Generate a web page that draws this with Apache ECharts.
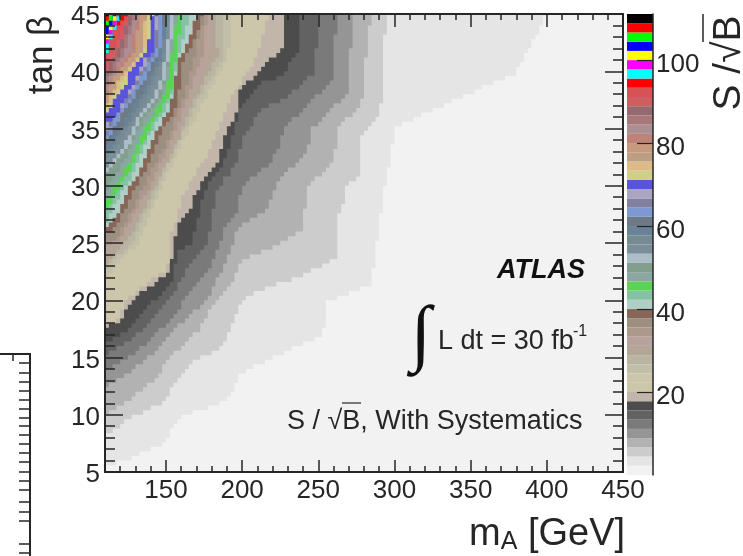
<!DOCTYPE html>
<html><head><meta charset="utf-8">
<style>html,body{margin:0;padding:0;background:#fff}#c{width:743px;height:556px}</style>
<script src="https://cdn.jsdelivr.net/npm/echarts@6/dist/echarts.min.js"></script>
</head><body><div id="c"></div>
<script>
// ROOT palette, bottom of the colour scale to the top
const palette = ['#f2f2f2','#e5e5e5','#cccccc','#b2b2b2','#959595','#7a7a7a','#626262','#4c4c4c','#c1b6a9','#ccc6aa','#ccc6aa','#c2bfa8','#bab5a3','#b3a697','#b8a39c','#ad998c','#9c8f82','#876657','#b0cfc7','#85c2a3','#59d454','#8aa8a1','#829e8c','#adbdc7','#7a8f99','#758a91','#698296','#6e7a85','#7d99d1','#8080a1','#aba6bf','#5954d9','#cfcf87','#deba87','#bd9e82','#c7997d','#bf8278','#ab8f94','#a6787a','#946970','#cf5e61','#d65254','#ff0000','#00ffff','#ff00ff','#ffff00','#0000ff','#00ff00','#ff0000','#000000'];
const zMax = 111.2;
const xMajor = [150,200,250,300,350,400,450];
const xMinor = [110,120,130,140,160,170,180,190,210,220,230,240,260,270,280,290,310,320,330,340,360,370,380,390,410,420,430,440];
const yMajor = [5,10,15,20,25,30,35,40,45];
const yMinor = [6,7,8,9,11,12,13,14,16,17,18,19,21,22,23,24,26,27,28,29,31,32,33,34,36,37,38,39,41,42,43,44];
const zTicks = [20,40,60,80,100];
const fragmentMinor = [9,19,28,37,46,55,64,72,81,90,99,108,118,127,136,148,158,167,190,199];
const fragmentMajor = [140,179];
const fragmentTop = [13];

// Iso-significance contours: [mA, tan beta]; band = palette index above the contour
const c1 = [[110,5.5],[125,6.1],[148,7.5],[159,9.8],[190,11.2],[199,13.5],[216,14.8],[235,15.9],[253,17],[256,19.8],[285,21.5],[288.5,25.2],[292,28.6],[295,30.9],[298,33],[300,35.1],[319,36.3],[334.5,37.2],[356,38.5],[379,39.8],[387,41.7],[395.5,43.8],[400,45]];
const c2 = [[110,8.2],[128,9.8],[149,11.2],[156,12.8],[160.5,13.7],[171,14.9],[187,15.9],[194,18],[200,20],[217,21.2],[235,21.9],[263,23.9],[262,26.8],[266,28.3],[267.5,29.9],[277,30.9],[278.5,34.2],[282,35.1],[289,35.9],[292,37.9],[293,42.5],[295,45]];
const c3 = [[110,10],[125,11.3],[141.4,12.9],[149,14.3],[156,15.4],[171,17.4],[177.5,18.5],[180,19.6],[194,21.8],[200,23.5],[225,25],[240,26.3],[242,29.2],[244.5,30.2],[259.6,32],[263,35],[267.5,35.7],[278.5,37],[279,38.5],[282,42.3],[284.5,45]];
const c4 = [[110,12.4],[128,13.9],[146,16],[159,18],[177,20],[185.4,22.4],[193,24.6],[197,26.3],[216,28],[219.5,29],[225,30.7],[243,33],[246,35.1],[263,37.3],[269.4,38.1],[270,40.5],[273.4,45]];
const c5 = [[110,13.9],[126,15],[144,17.1],[157,19.1],[168,21.1],[179,23],[185.4,24.8],[187.3,26.1],[195,27.2],[200,30],[217,31.8],[225,33.6],[227,35.1],[238,36.4],[257.6,39],[259.5,39.4],[262,45]];
const c6 = [[110,15.2],[124,16.3],[139.4,18],[150.6,19.8],[159,21.5],[163.7,22.9],[177,24.8],[180,27.2],[184,29.8],[196.5,32],[200,34.2],[213,36.8],[225,37.3],[246.4,39.9],[248.4,40.8],[249.7,45]];
const c7 = [[110,16.3],[124,17.4],[133,18.9],[144,20.2],[154.5,21.8],[157,24.1],[165.7,24.8],[169,26.1],[173.5,28.6],[177.5,30],[187.3,32],[195,34.7],[197,36.4],[213,39],[225,39.5],[238,42],[238,45]];
const c8 = [[110,17.6],[119.7,18.2],[126.3,19.6],[134.8,20.9],[144,21.6],[152.5,22.6],[154.5,24.4],[157,26.1],[157.8,26.8],[167,28],[169,29.4],[177.5,30.9],[184,32],[187.3,33.6],[190.6,35.1],[196.5,36.4],[197,37.9],[200.5,38.8],[209.6,39.7],[213,40.5],[226.7,42],[226.7,45]];
const c9 = [[110,17.8],[114.4,18],[119.7,18.6],[123,19.8],[131.5,20.9],[138,21.6],[146,22.2],[150.5,22.8],[152.5,24.4],[152.5,25.3],[162.4,29.6],[182,34],[192,37.7],[210,41.3],[217,45]];
const c11 = [[110,22],[132.8,25.25],[146,29.6],[161.7,34],[176,37.75],[190.6,41.4],[194,45]];
const c12 = [[110,22.6],[128.2,25.25],[143.3,29.6],[159,34],[172.2,37.75],[188,41.4],[188.6,45]];
const c13 = [[110,23.3],[125,25.25],[141.4,29.6],[157.8,34],[169.6,37.75],[184,41.4],[182.7,45]];
const c14 = [[110,23.9],[121,25.25],[139.4,29.6],[155.8,34],[167,37.75],[178.8,41.4],[179.4,45]];
const c15 = [[110,24.6],[118.4,25.25],[137.4,29.6],[153.8,34],[163.7,37.75],[174.2,41.4],[176.8,45]];
const c16 = [[110,25.1],[116.4,25.25],[134.1,29.6],[151.2,34],[161,37.75],[169,41.4],[175.5,45]];
const c17 = [[110,25.8],[113.1,26],[118.4,26.8],[125,28.3],[129.5,29.9],[134.8,30.9],[141.4,32.7],[146,34.4],[156.5,36.8],[159.7,39.4],[161.7,41],[165.7,41.9],[170.9,43.4],[174.2,45]];
const c18 = [[109,26.1],[114.4,26.8],[121,28.3],[125.6,29.9],[130.9,30.9],[137.4,32.7],[142,34.4],[152.5,36.8],[155.8,39.4],[157.8,41],[161.7,41.9],[167,43.4],[170.2,45]];
const c19 = [[110,26.6],[111,26.8],[117,28.5],[123,30],[127.6,30.9],[135.5,33.3],[141.4,35],[149.9,36.9],[152.5,37.5],[155.2,38.8],[157.1,40.8],[162.7,43.4],[165.6,45]];
const c20 = [[110,27.7],[113.5,28.5],[120,30],[124.6,30.9],[133.2,33.3],[139,35],[147.6,36.9],[150.9,37.5],[154.2,38.8],[156.1,40.8],[158.8,43.4],[161.1,45]];
const c21 = [[110.2,28.5],[116.7,30],[121.3,30.9],[129.9,33.3],[135.8,35],[144.3,36.9],[147.6,37.5],[150.9,38.8],[152.9,40.8],[155.5,43.4],[157.8,45]];
const c22 = [[110,29.6],[112.5,30],[117,30.9],[126.9,33.3],[132.2,35],[140.7,36.9],[145.3,37.5],[149.2,38.8],[151.9,40.8],[154.5,43.4],[156.8,45]];
const c23 = [[110,31],[112.5,31.4],[116.4,32],[123,33.1],[129.5,34.6],[134.1,36],[144,37.7],[149.2,39.2],[150.5,40.3],[152.5,41.4],[153.8,42.9],[155.8,45]];
const c24 = [[110,31.6],[113.8,32],[120.4,33.1],[126.9,34.6],[131.5,36],[141.4,37.7],[146.6,39.2],[147.9,40.3],[149.9,41.4],[151.2,42.9],[153.2,45]];
const c25 = [[110,32.4],[116.4,33.1],[123.6,34.6],[138.1,37.7],[148.6,41.4],[151.9,45]];
const c26 = [[110,32.8],[112.5,33.1],[120.4,34.6],[134.8,37.7],[147.3,41.4],[150.6,45]];
const c27 = [[110,33.4],[117.1,34.6],[131.5,37.7],[145.6,41.4],[149.6,45]];
const c28 = [[110,33.7],[114.4,34.7],[117.7,35.6],[123,36.8],[128.9,37.7],[132.8,38.6],[137.4,39.7],[144,41.4],[146.6,42.3],[147.3,43.6],[148.6,45]];
const c29 = [[110,34.3],[111.8,34.7],[115.1,35.6],[120.4,36.8],[126.3,37.7],[130.2,38.6],[134.8,39.7],[141.4,41.4],[144,42.3],[144.6,43.6],[146,45]];
const c30 = [[110,34.8],[117.7,36.2],[123.6,37.5],[128.9,38.5],[132.8,39.7],[138.7,41.2],[142.7,42.3],[143.7,43.6],[145,45]];
const c31 = [[110,35.3],[115.1,35.9],[121,37],[126.9,38.4],[130.9,39.7],[136.1,41],[141.4,41.8],[142.7,43.6],[144,45]];
const c32 = [[110,36],[111.2,36.4],[116.4,37.5],[122.3,38.5],[126.3,39.9],[132.8,41.2],[138.1,41.8],[139.4,43.6],[141.4,45]];
const c33 = [[110,36.6],[121.7,39.2],[136.1,41.85],[139.1,45]];
const c34 = [[110,37],[119,39.2],[133.8,41.85],[136.8,45]];
const c35 = [[110,37.5],[116.4,39.2],[130.9,41.85],[134.8,45]];
const c36 = [[110,37.8],[114.4,39.2],[128.9,41.85],[133.5,45]];
const c37 = [[110,38.2],[113.1,39.2],[126.3,41.85],[132.2,45]];
const c38 = [[110,38.5],[111.8,39.2],[123.6,41.85],[130.2,45]];
const c39 = [[110,39.2],[121,41.85],[128.2,45]];
const c40 = [[110,39.9],[118.4,41.85],[126.9,45]];
const c41 = [[110,40.5],[115.1,41.85],[125.5,45]];
const c42 = [[110,41],[114.4,43.6],[124.5,45]];
const c43 = [[110,41.5],[120.7,45]];
const c44 = [[110,41.85],[119.4,45]];
const c45 = [[110,42.4],[118,45]];
const c46 = [[110,42.9],[116.7,45]];
const c47 = [[110,43.6],[115.1,45]];
const c48 = [[110,44.1],[113.5,45]];
const c49 = [[110,44.65],[111.8,45]];
const contours = [[1,c1],[2,c2],[3,c3],[4,c4],[5,c5],[6,c6],[7,c7],[8,c8],[9,c9],[11,c11],[12,c12],[13,c13],[14,c14],[15,c15],[16,c16],[17,c17],[18,c18],[19,c19],[20,c20],[21,c21],[22,c22],[23,c23],[24,c24],[25,c25],[26,c26],[27,c27],[28,c28],[29,c29],[30,c30],[31,c31],[32,c32],[33,c33],[34,c34],[35,c35],[36,c36],[37,c37],[38,c38],[39,c39],[40,c40],[41,c41],[42,c42],[43,c43],[44,c44],[45,c45],[46,c46],[47,c47],[48,c48],[49,c49]];

// The histogram's cell size: contours are drawn as the staircase of the binned plot
const binM = 2.5, binT = 0.4;
function staircase(line){
  const snapM = m => Math.round(m/binM)*binM, snapT = t => Math.round(t/binT)*binT;
  const out = [[snapM(line[0][0]), snapT(line[0][1])]];
  for (let i=1;i<line.length;i++){
    for (let s=1;s<=24;s++){
      const f=s/24, m=snapM(line[i-1][0]+(line[i][0]-line[i-1][0])*f), t=snapT(line[i-1][1]+(line[i][1]-line[i-1][1])*f);
      const last=out[out.length-1];
      if (m!==last[0]||t!==last[1]){ out.push([m,last[1]]); out.push([m,t]); }
    }
  }
  return out;
}

const ink = '#262626', font = 'Liberation Sans';
function xAxis(pos, vals, len, labels){
  return {type:'value',gridIndex:0,position:pos,min:110,max:450,z:6,
    axisLine:{show:true,onZero:false,lineStyle:{color:ink,width:2}},
    axisTick:{show:true,inside:true,length:len,customValues:vals,lineStyle:{color:ink,width:1.5}},
    axisLabel:labels?{show:true,customValues:vals,color:ink,fontFamily:font,fontSize:26,margin:6,showMinLabel:true,showMaxLabel:true,hideOverlap:false}:{show:false},
    splitLine:{show:false}};
}
function yAxis(pos, vals, len, labels){
  return {type:'value',gridIndex:0,position:pos,min:5,max:45,z:6,
    axisLine:{show:true,onZero:false,lineStyle:{color:ink,width:2}},
    axisTick:{show:true,inside:true,length:len,customValues:vals,lineStyle:{color:ink,width:1.5}},
    axisLabel:labels?{show:true,customValues:vals,color:ink,fontFamily:font,fontSize:26,margin:5,verticalAlign:'top',lineHeight:6,showMinLabel:true,showMaxLabel:true,hideOverlap:false}:{show:false},
    splitLine:{show:false}};
}
const option = {
  animation:false,
  backgroundColor:'#ffffff',
  grid:[
    {left:105,top:14,width:518,height:458,show:true,backgroundColor:palette[0],borderWidth:0},
    {left:627,top:14,width:26,height:461,show:false},
    {left:0,top:354,width:30,height:202,show:false}
  ],
  xAxis:[
    xAxis('bottom',xMajor,12,true), xAxis('top',xMajor,13,false), xAxis('bottom',xMinor,6,false), xAxis('top',xMinor,6,false),
    {type:'value',gridIndex:1,min:0,max:1,show:false},
    {type:'value',gridIndex:2,position:'top',min:0,max:30,
      axisLine:{show:true,onZero:false,lineStyle:{color:ink,width:2}},
      axisTick:{show:true,inside:true,length:7,customValues:fragmentTop,lineStyle:{color:ink,width:1.5}},
      axisLabel:{show:false},splitLine:{show:false}}
  ],
  yAxis:[
    yAxis('left',yMajor,18,true), yAxis('right',yMajor,18,false), yAxis('left',yMinor,10,false), yAxis('right',yMinor,10,false),
    {type:'value',gridIndex:1,position:'right',min:0,max:zMax,z:6,
      axisLine:{show:true,onZero:false,lineStyle:{color:ink,width:1.5}},
      axisTick:{show:true,inside:true,length:16,customValues:zTicks,lineStyle:{color:ink,width:1.2}},
      axisLabel:{show:true,customValues:zTicks,color:ink,fontFamily:font,fontSize:26,margin:3,verticalAlign:'top',lineHeight:9},
      splitLine:{show:false}},
    {type:'value',gridIndex:2,position:'right',min:0,max:202,inverse:true,
      axisLine:{show:true,onZero:false,lineStyle:{color:ink,width:2}},
      axisTick:{show:true,inside:true,length:11,customValues:fragmentMinor,lineStyle:{color:ink,width:1.5}},
      axisLabel:{show:false},splitLine:{show:false}},
    {type:'value',gridIndex:2,position:'right',min:0,max:202,inverse:true,
      axisLine:{show:false},
      axisTick:{show:true,inside:true,length:15,customValues:fragmentMajor,lineStyle:{color:ink,width:1.5}},
      axisLabel:{show:false},splitLine:{show:false}}
  ],
  series:[
    {type:'custom',coordinateSystem:'cartesian2d',xAxisIndex:0,yAxisIndex:0,clip:true,z:2,silent:true,
     data:contours.map((c,i)=>[i]),encode:{x:-1,y:-1},
     renderItem(params,api){
       const [band,line]=contours[api.value(0)];
       const pts=staircase(line).map(p=>api.coord(p));
       pts.push(api.coord([100,46])); 
       return {type:'polygon',shape:{points:pts},style:{fill:palette[band]}};
     }},
    {type:'custom',coordinateSystem:'cartesian2d',xAxisIndex:4,yAxisIndex:4,z:2,silent:true,
     data:palette.map((c,i)=>[i]),encode:{x:-1,y:-1},
     renderItem(params,api){
       const i=api.value(0), d=zMax/palette.length;
       const a=api.coord([0,i*d]), b=api.coord([1,(i+1)*d]);
       return {type:'rect',shape:{x:a[0],y:b[1],width:b[0]-a[0],height:a[1]-b[1]},style:{fill:palette[i]}};
     }}
  ],
  graphic:[
    {type:'text',x:42,y:55,rotation:Math.PI/2,style:{text:'tan β',font:'35px Liberation Sans',fill:ink,align:'center',verticalAlign:'middle'},z:10},
    {type:'text',x:469,y:535,style:{text:'{m|m}{s|A}{m| [GeV]}',fill:ink,font:'38px Liberation Sans',verticalAlign:'middle',
      rich:{m:{font:'38px Liberation Sans',fill:ink},s:{font:'25px Liberation Sans',fill:ink,padding:[14,0,0,0]}}},z:10},
    {type:'text',x:729,y:63,rotation:Math.PI/2,style:{text:'S /√B',font:'39px Liberation Sans',fill:ink,align:'center',verticalAlign:'middle'},z:10},
    {type:'line',shape:{x1:703,y1:14,x2:703,y2:42},style:{stroke:ink,lineWidth:1.5},z:10},
    {type:'text',x:585,y:271,style:{text:'ATLAS',font:'italic bold 27px Liberation Sans',fill:'#111',align:'right',verticalAlign:'middle'},z:10},
    {type:'text',x:421,y:338,style:{text:'∫',font:'74px Liberation Serif',fill:'#111',align:'center',verticalAlign:'middle'},z:10},
    {type:'text',x:438,y:342,style:{text:'L dt = 30 fb',font:'27px Liberation Sans',fill:ink,verticalAlign:'middle'},z:10},
    {type:'text',x:573,y:332,style:{text:'-1',font:'16px Liberation Sans',fill:ink,verticalAlign:'middle'},z:10},
    {type:'text',x:287,y:422,style:{text:'S / √B, With Systematics',font:'27px Liberation Sans',fill:ink,verticalAlign:'middle'},z:10},
    {type:'line',shape:{x1:342,y1:403,x2:361,y2:403},style:{stroke:ink,lineWidth:1.2},z:10}
  ]
};
echarts.init(document.getElementById('c'),null,{renderer:'canvas'}).setOption(option);
</script></body></html>
